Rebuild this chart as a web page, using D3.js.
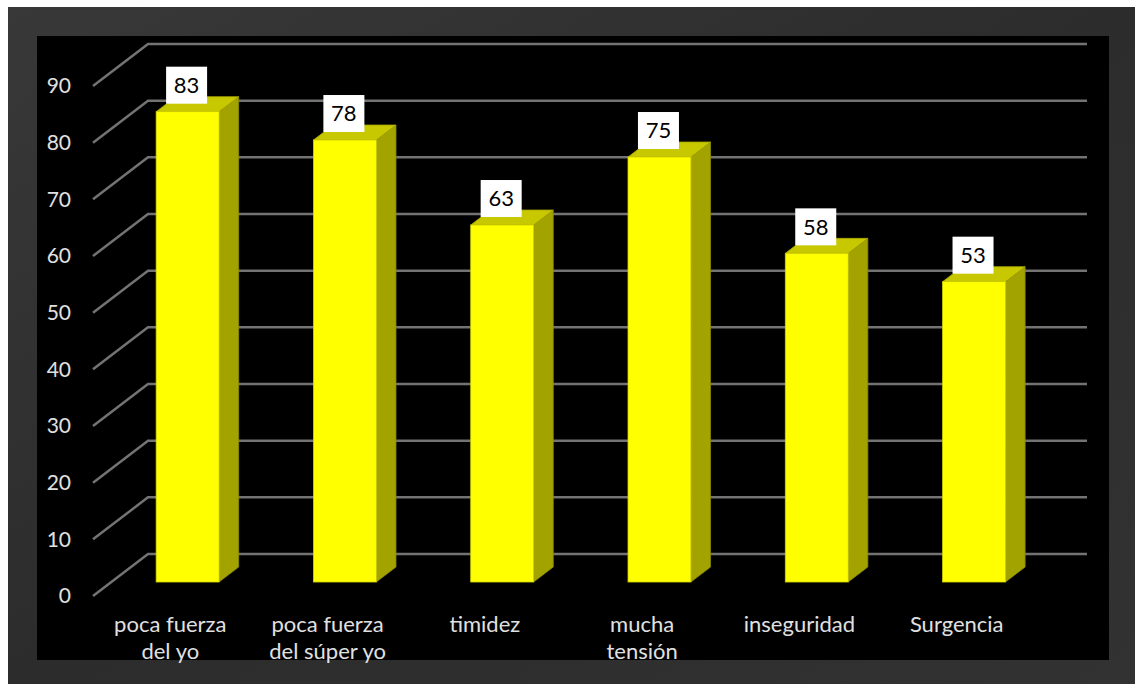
<!DOCTYPE html>
<html><head><meta charset="utf-8">
<script src="https://cdn.jsdelivr.net/npm/d3@7"></script>
<style>html,body{margin:0;padding:0;background:#fff;overflow:hidden}</style>
</head><body>
<svg id="c" width="1135" height="684"></svg>
<script>
const categories = [["poca fuerza","del yo"],["poca fuerza","del súper yo"],["timidez"],["mucha","tensión"],["inseguridad"],["Surgencia"]];
const values = [83, 78, 63, 75, 58, 53];
const tickValues = [0,10,20,30,40,50,60,70,80,90];

const svg = d3.select("#c");
const font = "Lato, 'Noto Sans', sans-serif";

// frame
const defs = svg.append("defs");
const g1 = defs.append("linearGradient").attr("id","fr").attr("x1","0").attr("y1","0").attr("x2","1").attr("y2","1");
g1.append("stop").attr("offset","0").attr("stop-color","#383838");
g1.append("stop").attr("offset","0.5").attr("stop-color","#2c2c2c");
g1.append("stop").attr("offset","1").attr("stop-color","#323232");
svg.append("rect").attr("x",8).attr("y",7).attr("width",1127).attr("height",677).attr("fill","url(#fr)");
svg.append("rect").attr("x",37).attr("y",36).attr("width",1072).attr("height",624).attr("fill","#000");

// scales (back wall plane)
const y = d3.scaleLinear().domain([0,90]).range([554,44]);
const idx = categories.map((d,i)=>i);
const x = d3.scaleBand().domain(idx).range([148,1087]).paddingInner(0.6).paddingOuter(0.285);
const wallDx = 55, wallDy = 42;
const fFront = 0.667, fBack = 0.31;

// gridlines
const grid = svg.append("g").attr("stroke","#737373").attr("stroke-width",2.5).attr("fill","none");
tickValues.forEach(t=>{
  grid.append("path").attr("d",`M${148-wallDx},${y(t)+wallDy}L148,${y(t)}L1087,${y(t)}`);
});

// tick labels
svg.append("g").selectAll("text").data(tickValues).join("text")
  .attr("x",71).attr("y",t=>y(t)+wallDy).attr("dy","0.35em")
  .attr("text-anchor","end").attr("font-family",font).attr("font-size",21).attr("fill","#e0e0e0")
  .text(d=>d);

// bars
const bars = svg.append("g");
values.forEach((v,i)=>{
  const bx = x(i), bw = x.bandwidth();
  const fx = bx - wallDx*fFront, fy0 = y(0) + wallDy*fFront, fyt = y(v) + wallDy*fFront;
  const kx = bx - wallDx*fBack, ky0 = y(0) + wallDy*fBack, kyt = y(v) + wallDy*fBack;
  bars.append("path").attr("d",`M${fx+bw},${fyt}L${kx+bw},${kyt}L${kx+bw},${ky0}L${fx+bw},${fy0}Z`)
    .attr("fill","#a3a300").attr("stroke","#8a8a00").attr("stroke-width",0.8);
  bars.append("path").attr("d",`M${fx},${fyt}L${kx},${kyt}L${kx+bw},${kyt}L${fx+bw},${fyt}Z`)
    .attr("fill","#c8c800").attr("stroke","#a6a600").attr("stroke-width",0.8);
  bars.append("rect").attr("x",fx).attr("y",fyt).attr("width",bw).attr("height",fy0-fyt)
    .attr("fill","#ffff00").attr("stroke","#d0d000").attr("stroke-width",0.8);
  const cx = fx + bw/2 - 1;
  bars.append("rect").attr("x",cx-20.5).attr("y",fyt-8-37).attr("width",41).attr("height",37).attr("fill","#fff");
  bars.append("text").attr("x",cx).attr("y",fyt-8-18.5).attr("dy","0.36em").attr("text-anchor","middle")
    .attr("font-family",font).attr("font-size",22).attr("fill","#000").text(v);
});

// category labels
const cl = svg.append("g").attr("font-family",font).attr("font-size",22).attr("fill","#e0e0e0").attr("text-anchor","middle");
categories.forEach((lines,i)=>{
  const cx = x(i) + x.bandwidth()/2 - wallDx + 1;
  const t = cl.append("text").attr("x",cx).attr("y",632);
  lines.forEach((ln,j)=>t.append("tspan").attr("x",cx).attr("y",632+j*27).text(ln));
});
</script>
</body></html>
